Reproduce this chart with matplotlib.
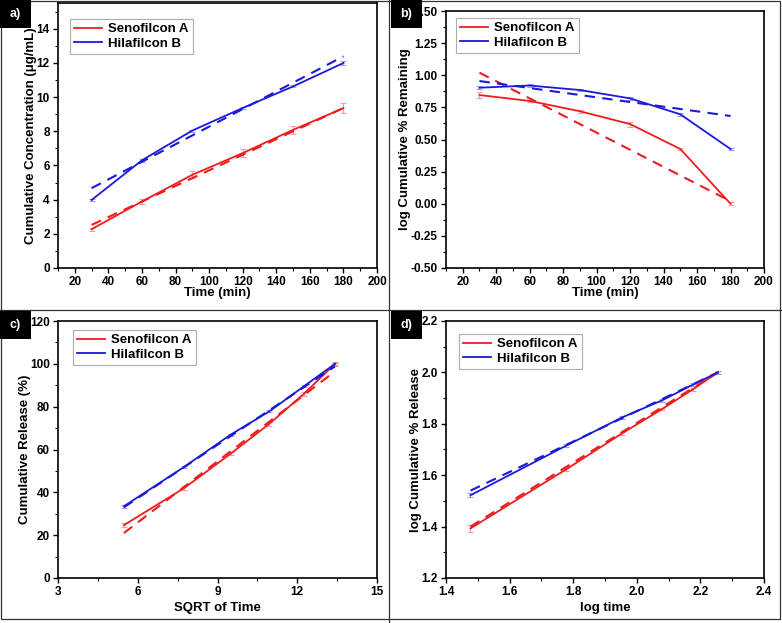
import matplotlib
matplotlib.use("Agg")
import matplotlib.pyplot as plt
from matplotlib.ticker import MultipleLocator, FormatStrFormatter
from matplotlib.patches import Rectangle
from matplotlib.lines import Line2D

plt.rcParams['font.family'] = ['Liberation Sans', 'DejaVu Sans']
plt.rcParams['font.weight'] = 'bold'

# ---------------- data ----------------
series_names = ["Senofilcon A", "Hilafilcon B"]

time_min = [30, 60, 90, 120, 150, 180]
sqrt_time = [5.48, 7.75, 9.49, 10.95, 12.25, 13.42]
log_time = [1.477, 1.778, 1.954, 2.079, 2.176, 2.255]

# a) cumulative concentration (ug/mL)
a_seno = [2.27, 3.89, 5.45, 6.72, 8.08, 9.35]
a_hila = [3.98, 6.30, 8.04, 9.36, 10.62, 11.99]
a_seno_err = [0.08, 0.15, 0.2, 0.25, 0.25, 0.3]
a_hila_err = [0.08, 0.08, 0.06, 0.06, 0.06, 0.1]
a_fit_x = [30, 180]
a_seno_fit = [2.52, 9.36]
a_hila_fit = [4.67, 12.38]

# b) log cumulative % remaining
b_seno = [0.846, 0.80, 0.72, 0.62, 0.426, 0.0]
b_hila = [0.903, 0.92, 0.885, 0.82, 0.696, 0.426]
b_seno_err = [0.02, 0.01, 0.01, 0.02, 0.01, 0.01]
b_hila_err = [0.01, 0.01, 0.01, 0.01, 0.01, 0.01]
b_fit_x = [30, 180]
b_seno_fit = [1.02, 0.02]
b_hila_fit = [0.955, 0.683]

# c) cumulative release (%) vs sqrt(time)
c_seno = [24.7, 42.0, 58.0, 72.0, 86.0, 100.0]
c_hila = [33.5, 51.9, 66.9, 77.8, 89.5, 100.0]
c_seno_err = [1.0, 0.8, 0.8, 0.8, 0.8, 0.8]
c_hila_err = [0.8, 0.5, 0.5, 0.5, 0.5, 0.5]
c_fit_x = [5.48, 13.42]
c_seno_fit = [21.0, 96.5]
c_hila_fit = [33.0, 98.8]

# d) log cumulative % release vs log time
d_seno = [1.393, 1.623, 1.763, 1.857, 1.934, 2.0]
d_hila = [1.522, 1.715, 1.825, 1.891, 1.952, 2.0]
d_seno_err = [0.015, 0.005, 0.005, 0.005, 0.005, 0.005]
d_hila_err = [0.008, 0.005, 0.005, 0.005, 0.005, 0.005]
d_fit_x = [1.477, 2.255]
d_seno_fit = [1.40, 2.0]
d_hila_fit = [1.54, 2.0]

# ---------------- styling ----------------
W, H = 782, 623
RED = '#ee1c1c'
BLUE = '#1a1ad8'
RED_ERR = '#f5a0a0'
BLUE_ERR = '#a0a0f0'

fig = plt.figure(figsize=(W / 100, H / 100), dpi=100)


def px_axes(l, t, r, b):
    return fig.add_axes([l / W, 1 - b / H, (r - l) / W, (b - t) / H])


def fx(px):
    return px / W


def fy(py):
    return 1 - py / H


panels = [
    dict(rect=(58, 3, 377, 268), x=time_min, s=a_seno, h=a_hila, se=a_seno_err, he=a_hila_err,
         fitx=a_fit_x, sf=a_seno_fit, hf=a_hila_fit,
         xlim=(10, 200), ylim=(0, 15.5), xmaj=20, xmin=10, ymaj=2, ymin=1,
         xfmt='%d', yfmt='%d', xlabel='Time (min)', ylabel='Cumulative Concentration (\u03bcg/mL)',
         xlab_y=293, ylab_x=31, legend=(70, 19), tag='a)', tagpos=(0, 0)),
    dict(rect=(446, 11, 764, 268), x=time_min, s=b_seno, h=b_hila, se=b_seno_err, he=b_hila_err,
         fitx=b_fit_x, sf=b_seno_fit, hf=b_hila_fit,
         xlim=(10, 200), ylim=(-0.5, 1.5), xmaj=20, xmin=10, ymaj=0.25, ymin=0.125,
         xfmt='%d', yfmt='%.2f', xlabel='Time (min)', ylabel='log Cumulative % Remaining',
         xlab_y=293, ylab_x=405, legend=(456, 18), tag='b)', tagpos=(391, 0)),
    dict(rect=(58, 321, 377, 578), x=sqrt_time, s=c_seno, h=c_hila, se=c_seno_err, he=c_hila_err,
         fitx=c_fit_x, sf=c_seno_fit, hf=c_hila_fit,
         xlim=(3, 15), ylim=(0, 120), xmaj=3, xmin=1.5, ymaj=20, ymin=10,
         xfmt='%d', yfmt='%d', xlabel='SQRT of Time', ylabel='Cumulative Release (%)',
         xlab_y=608, ylab_x=25, legend=(73, 330), tag='c)', tagpos=(0, 311)),
    dict(rect=(446, 321, 764, 578), x=log_time, s=d_seno, h=d_hila, se=d_seno_err, he=d_hila_err,
         fitx=d_fit_x, sf=d_seno_fit, hf=d_hila_fit,
         xlim=(1.4, 2.4), ylim=(1.2, 2.2), xmaj=0.2, xmin=0.1, ymaj=0.2, ymin=0.1,
         xfmt='%.1f', yfmt='%.1f', xlabel='log time', ylabel='log Cumulative % Release',
         xlab_y=608, ylab_x=416, legend=(459, 334), tag='d)', tagpos=(391, 311)),
]

for p in panels:
    l, t, r, b = p['rect']
    ax = px_axes(l, t, r, b)
    ax.errorbar(p['x'], p['s'], yerr=p['se'], fmt='none', ecolor=RED_ERR, elinewidth=0.8,
                capsize=2, capthick=0.8, zorder=2)
    ax.errorbar(p['x'], p['h'], yerr=p['he'], fmt='none', ecolor=BLUE_ERR, elinewidth=0.8,
                capsize=2, capthick=0.8, zorder=2)
    ax.plot(p['x'], p['s'], color=RED, lw=1.3, zorder=3, label=series_names[0])
    ax.plot(p['x'], p['h'], color=BLUE, lw=1.3, zorder=3, label=series_names[1])
    ax.plot(p['fitx'], p['sf'], color=RED, lw=1.5, ls=(0, (5, 3.5)), zorder=3)
    ax.plot(p['fitx'], p['hf'], color=BLUE, lw=1.5, ls=(0, (5, 3.5)), zorder=3)

    ax.set_xlim(*p['xlim'])
    ax.set_ylim(*p['ylim'])
    ax.xaxis.set_major_locator(MultipleLocator(p['xmaj']))
    ax.xaxis.set_minor_locator(MultipleLocator(p['xmin']))
    ax.yaxis.set_major_locator(MultipleLocator(p['ymaj']))
    ax.yaxis.set_minor_locator(MultipleLocator(p['ymin']))
    ax.xaxis.set_major_formatter(FormatStrFormatter(p['xfmt']))
    ax.yaxis.set_major_formatter(FormatStrFormatter(p['yfmt']))
    ax.tick_params(which='major', direction='out', length=3.5, width=1, labelsize=8.5, pad=2.5)
    ax.tick_params(which='minor', direction='out', length=2, width=0.8)
    for lab in ax.get_xticklabels() + ax.get_yticklabels():
        lab.set_fontweight('bold')
    for sp in ax.spines.values():
        sp.set_linewidth(1.2)

    ax.set_xlabel(p['xlabel'], fontsize=9.5, fontweight='bold', va='center')
    ax.xaxis.set_label_coords(fx((l + r) / 2), fy(p['xlab_y']), transform=fig.transFigure)
    ax.set_ylabel(p['ylabel'], fontsize=9.5, fontweight='bold', va='center')
    ax.yaxis.set_label_coords(fx(p['ylab_x']), fy((t + b) / 2), transform=fig.transFigure)

    lx, ly = p['legend']
    leg = ax.legend(loc='upper left', bbox_to_anchor=(fx(lx), fy(ly)),
                    bbox_transform=fig.transFigure, frameon=True, fancybox=False,
                    prop=dict(size=9.5, weight='bold'), handlelength=2.1,
                    borderpad=0.3, labelspacing=0.2, handletextpad=0.5, borderaxespad=0)
    leg.get_frame().set_edgecolor('#999999')
    leg.get_frame().set_linewidth(0.8)

    tx, ty = p['tagpos']
    fig.patches.append(Rectangle((fx(tx), fy(ty + 28)), 31 / W, 28 / H, transform=fig.transFigure,
                                 facecolor='black', edgecolor='none', zorder=5))
    fig.text(fx(tx + 15), fy(ty + 14), p['tag'], color='white', fontsize=9, fontweight='bold',
             ha='center', va='center', zorder=6)

# panel separators and outer frame
fig.lines.append(Line2D([fx(389), fx(389)], [0, 1], transform=fig.transFigure, color='#333333', lw=0.9))
fig.lines.append(Line2D([0, 1], [fy(310), fy(310)], transform=fig.transFigure, color='#333333', lw=0.9))
fig.patches.append(Rectangle((0.5 / W, fy(619)), 779 / W, 618.5 / H, transform=fig.transFigure,
                             facecolor='none', edgecolor='#333333', lw=0.9))

fig.savefig('out.png', dpi=100)
